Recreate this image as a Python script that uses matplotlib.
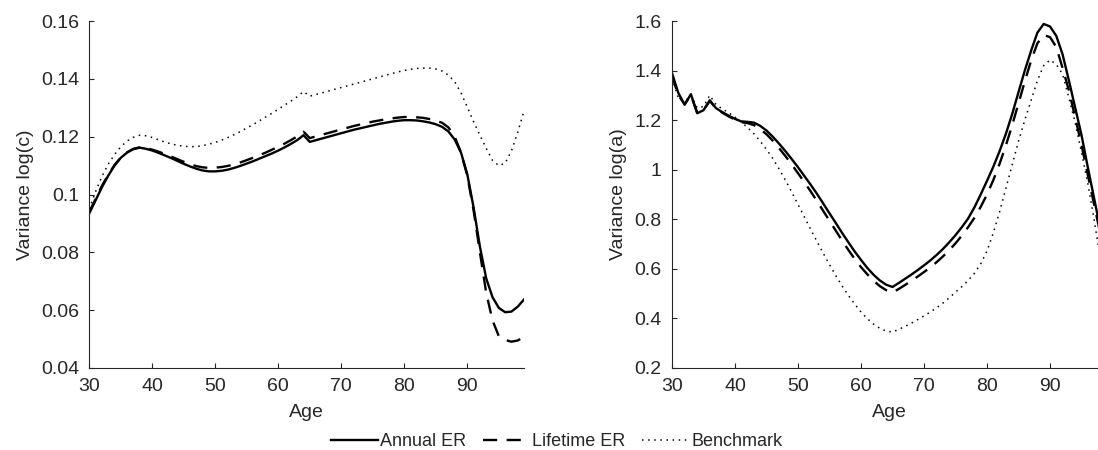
"""
Variance of log consumption and log assets by age: Annual ER vs Lifetime ER vs Benchmark
"""
import numpy as np
import matplotlib.pyplot as plt
from matplotlib.ticker import FormatStrFormatter

plt.rcParams['font.family'] = ['Liberation Sans', 'DejaVu Sans']

ages = np.arange(30, 100)

# Variance log(c)
cons_annual = [
    0.0935, 0.0980, 0.1025, 0.1065, 0.1100, 0.1127, 0.1145, 0.1157, 0.1162, 0.1158,
    0.1152, 0.1144, 0.1135, 0.1126, 0.1116, 0.1106, 0.1097, 0.1089, 0.1083, 0.1080,
    0.1080, 0.1082, 0.1086, 0.1092, 0.1099, 0.1107, 0.1115, 0.1124, 0.1133, 0.1142,
    0.1152, 0.1163, 0.1175, 0.1188, 0.1205, 0.1182, 0.1188, 0.1194, 0.1200, 0.1206,
    0.1212, 0.1218, 0.1224, 0.1229, 0.1234, 0.1239, 0.1244, 0.1248, 0.1252, 0.1255,
    0.1257, 0.1257, 0.1256, 0.1253, 0.1249, 0.1243, 0.1234, 0.1218, 0.1190, 0.1145,
    0.1070, 0.0955, 0.0820, 0.0710, 0.0645, 0.0608, 0.0593, 0.0595, 0.0612, 0.0637]
cons_lifetime = [
    0.0940, 0.0985, 0.1030, 0.1068, 0.1102, 0.1128, 0.1146, 0.1158, 0.1163, 0.1160,
    0.1155, 0.1148, 0.1140, 0.1131, 0.1122, 0.1113, 0.1105, 0.1098, 0.1094, 0.1092,
    0.1093, 0.1095, 0.1099, 0.1104, 0.1111, 0.1119, 0.1127, 0.1136, 0.1145, 0.1155,
    0.1165, 0.1176, 0.1188, 0.1201, 0.1217, 0.1195, 0.1201, 0.1207, 0.1213, 0.1219,
    0.1225, 0.1231, 0.1237, 0.1242, 0.1247, 0.1252, 0.1256, 0.1260, 0.1263, 0.1266,
    0.1268, 0.1268, 0.1267, 0.1265, 0.1261, 0.1256, 0.1248, 0.1232, 0.1200, 0.1145,
    0.1065, 0.0945, 0.0800, 0.0660, 0.0565, 0.0510, 0.0497, 0.0491, 0.0495, 0.0508]
cons_bench = [
    0.0950, 0.1010, 0.1062, 0.1105, 0.1138, 0.1165, 0.1185, 0.1198, 0.1205, 0.1203,
    0.1197, 0.1189, 0.1181, 0.1175, 0.1170, 0.1167, 0.1165, 0.1166, 0.1169, 0.1174,
    0.1180, 0.1188, 0.1197, 0.1207, 0.1218, 0.1230, 0.1242, 0.1255, 0.1268, 0.1281,
    0.1295, 0.1309, 0.1323, 0.1338, 0.1356, 0.1340, 0.1346, 0.1352, 0.1358, 0.1364,
    0.1370, 0.1376, 0.1382, 0.1388, 0.1394, 0.1400, 0.1406, 0.1412, 0.1418, 0.1424,
    0.1429, 0.1433, 0.1436, 0.1437, 0.1437, 0.1434, 0.1427, 0.1413, 0.1390, 0.1352,
    0.1302, 0.1252, 0.1205, 0.1160, 0.1118, 0.1100, 0.1108, 0.1150, 0.1215, 0.1288]

# Variance log(a)
assets_annual = [
    1.390, 1.310, 1.262, 1.305, 1.228, 1.240, 1.280, 1.248, 1.232, 1.218,
    1.205, 1.195, 1.193, 1.190, 1.177, 1.158, 1.133, 1.105, 1.075, 1.043,
    1.010, 0.975, 0.940, 0.903, 0.864, 0.824, 0.785, 0.745, 0.707, 0.670,
    0.636, 0.604, 0.576, 0.553, 0.536, 0.527, 0.543, 0.560, 0.577, 0.595,
    0.614, 0.634, 0.656, 0.680, 0.707, 0.736, 0.768, 0.803, 0.848, 0.900,
    0.955, 1.012, 1.075, 1.145, 1.225, 1.313, 1.400, 1.480, 1.553, 1.588,
    1.578, 1.540, 1.465, 1.360, 1.250, 1.140, 1.010, 0.885, 0.760, 0.640]
assets_lifetime = [
    1.380, 1.300, 1.265, 1.300, 1.230, 1.240, 1.278, 1.246, 1.230, 1.215,
    1.202, 1.192, 1.188, 1.180, 1.164, 1.143, 1.117, 1.087, 1.055, 1.021,
    0.986, 0.950, 0.913, 0.874, 0.834, 0.794, 0.754, 0.714, 0.676, 0.640,
    0.607, 0.578, 0.552, 0.530, 0.514, 0.505, 0.519, 0.535, 0.552, 0.569,
    0.587, 0.606, 0.627, 0.650, 0.675, 0.703, 0.734, 0.768, 0.806, 0.850,
    0.900, 0.958, 1.024, 1.098, 1.180, 1.268, 1.356, 1.440, 1.510, 1.543,
    1.535, 1.495, 1.410, 1.320, 1.210, 1.100, 0.980, 0.860, 0.740, 0.630]
assets_bench = [
    1.370, 1.290, 1.275, 1.300, 1.250, 1.255, 1.300, 1.262, 1.245, 1.230,
    1.212, 1.192, 1.170, 1.145, 1.115, 1.082, 1.045, 1.003, 0.958, 0.910,
    0.860, 0.810, 0.760, 0.711, 0.663, 0.617, 0.573, 0.531, 0.493, 0.458,
    0.426, 0.399, 0.377, 0.360, 0.349, 0.345, 0.356, 0.368, 0.381, 0.395,
    0.410, 0.426, 0.443, 0.462, 0.483, 0.506, 0.528, 0.553, 0.582, 0.620,
    0.672, 0.745, 0.830, 0.925, 1.020, 1.115, 1.200, 1.280, 1.360, 1.420,
    1.443, 1.425, 1.385, 1.290, 1.190, 1.070, 0.945, 0.800, 0.640, 0.500]

text_col = '#262626'

fig = plt.figure(figsize=(10.98, 4.5), dpi=100, facecolor='white')
# right panel runs slightly past the figure edge, as in the original crop
ax1 = fig.add_axes([89.3 / 1098, 82 / 450, 434.7 / 1098, 347 / 450])
ax2 = fig.add_axes([672 / 1098, 82 / 450, 434.7 / 1098, 347 / 450])

panels = [
    (ax1, cons_annual, cons_lifetime, cons_bench, 'Variance log(c)',
     (0.04, 0.16), np.arange(0.04, 0.161, 0.02)),
    (ax2, assets_annual, assets_lifetime, assets_bench, 'Variance log(a)',
     (0.2, 1.6), np.arange(0.2, 1.61, 0.2)),
]

for ax, ann, life, bench, ylab, ylim, yticks in panels:
    ax.plot(ages, ann, color='black', lw=1.7, label='Annual ER')
    ax.plot(ages, life, color='black', lw=1.7, linestyle=(0, (6, 4)), label='Lifetime ER')
    ax.plot(ages, bench, color='black', lw=1.1, linestyle=(0, (1, 3)), label='Benchmark')
    ax.set_xlim(30, 99)
    ax.set_ylim(*ylim)
    ax.set_xticks(np.arange(30, 91, 10))
    ax.set_yticks(yticks)
    ax.yaxis.set_major_formatter(FormatStrFormatter('%g'))
    ax.set_xlabel('Age', fontsize=14, color=text_col, labelpad=6)
    ax.set_ylabel(ylab, fontsize=14, color=text_col, labelpad=5)
    ax.tick_params(direction='in', length=3.5, width=0.8, colors=text_col,
                   labelsize=14, pad=7.5)
    for side in ['top', 'right']:
        ax.spines[side].set_visible(False)
    for side in ['left', 'bottom']:
        ax.spines[side].set_color(text_col)
        ax.spines[side].set_linewidth(0.8)

handles, labels = ax1.get_legend_handles_labels()
fig.legend(handles, labels, loc='lower center', bbox_to_anchor=(0.507, -0.037),
           ncol=3, frameon=False, fontsize=13, handlelength=2.6,
           handletextpad=0.15, columnspacing=0.9, labelcolor=text_col)

plt.savefig('out.png', dpi=100, facecolor='white')
